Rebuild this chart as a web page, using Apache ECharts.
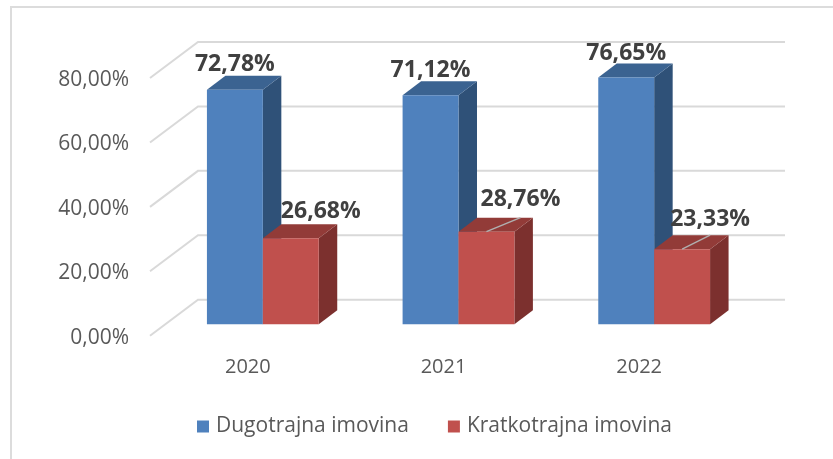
<!DOCTYPE html>
<html>
<head>
<meta charset="utf-8">
<style>
  html, body { margin: 0; padding: 0; background: #fff; }
  #chart { width: 833px; height: 459px; }
</style>
<script src="https://cdn.jsdelivr.net/npm/echarts@6/dist/echarts.min.js"></script>
</head>
<body>
<div id="chart"></div>
<script>
const years = ['2020', '2021', '2022']
const dugotrajna = [72.78, 71.12, 76.65]
const kratkotrajna = [26.68, 28.76, 23.33]
const yTicks = [0, 20, 40, 60, 80]

// label position relative to the middle of the bar's front top edge
const dugoLabelShift = [[0, -25], [0, -25], [0, -24]]
const kratkoLabelShift = [[30, -27], [34, -32], [28, -30]]
// only these two labels have a leader line
const kratkoLeader = [false, true, true]

const wallDepth = [48, -36] // depth of the floor and side wall
const barInset = [15, -11.4] // bar front seen from the front wall plane
const barDepth = [18.5, -14]
const barShare = 56 / 196 // bar width as part of a category band

function fmt(v) {
  return v.toFixed(2).replace('.', ',') + '%'
}

function renderWall(params, api) {
  const p = api.coord([0, api.value(0)])
  const band = api.size([1, 0])[0]
  const left = p[0] - band / 2
  const right = left + band * years.length
  return {
    type: 'polyline',
    shape: {
      points: [
        [left, p[1]],
        [left + wallDepth[0], p[1] + wallDepth[1]],
        [right + wallDepth[0], p[1] + wallDepth[1]]
      ]
    },
    style: { fill: 'none', stroke: '#d9d9d9', lineWidth: 2 }
  }
}

// pos: -1 bar left of the category centre, 0 bar right of it
function barRenderer(colors, pos, shifts, leaders) {
  return function (params, api) {
    const i = api.value(0)
    const val = api.value(1)
    const top = api.coord([i, val])
    const base = api.coord([i, 0])
    const w = api.size([1, 0])[0] * barShare
    const x0 = top[0] + barInset[0] + pos * w
    const x1 = x0 + w
    const y0 = top[1] + barInset[1]
    const y1 = base[1] + barInset[1]
    const dx = barDepth[0]
    const dy = barDepth[1]
    const cx = (x0 + x1) / 2
    const shift = shifts[i]
    const children = [
      {
        type: 'polygon',
        shape: { points: [[x1, y0], [x1 + dx, y0 + dy], [x1 + dx, y1 + dy], [x1, y1]] },
        style: { fill: colors.side }
      },
      {
        type: 'polygon',
        shape: { points: [[x0, y0], [x0 + dx, y0 + dy], [x1 + dx, y0 + dy], [x1, y0]] },
        style: { fill: colors.top }
      },
      {
        type: 'rect',
        shape: { x: x0, y: y0, width: w, height: y1 - y0 },
        style: { fill: colors.front }
      }
    ]
    if (leaders && leaders[i]) {
      children.push({
        type: 'line',
        shape: { x1: cx, y1: y0, x2: cx + shift[0], y2: y0 + dy },
        style: { stroke: '#b0b0b0', lineWidth: 1.5 }
      })
    }
    children.push({
      type: 'text',
      x: cx + shift[0],
      y: y0 + shift[1],
      style: {
        text: fmt(val),
        fill: '#404040',
        font: 'bold 23px "Open Sans"',
        align: 'center',
        verticalAlign: 'middle'
      }
    })
    return { type: 'group', children: children }
  }
}

const chart = echarts.init(document.getElementById('chart'))
chart.setOption({
  animation: false,
  backgroundColor: '#fff',
  textStyle: { fontFamily: 'Open Sans' },
  grid: { left: 150, right: 96, top: 78, bottom: 123.3 },
  graphic: [
    {
      type: 'polyline',
      silent: true,
      shape: { points: [[11, 459], [11, 7], [833, 7]] },
      style: { fill: 'none', stroke: '#dcdcdc', lineWidth: 2 }
    }
  ],
  legend: {
    data: ['Dugotrajna imovina', 'Kratkotrajna imovina'],
    left: 192,
    top: 411,
    icon: 'rect',
    itemWidth: 12,
    itemHeight: 12,
    itemGap: 39,
    textStyle: { color: '#595959', fontSize: 21, fontFamily: 'Open Sans', padding: [0, 0, 0, 2] }
  },
  xAxis: {
    type: 'category',
    data: years,
    axisLine: { show: false },
    axisTick: { show: false },
    axisLabel: { color: '#595959', fontSize: 20, margin: 22 }
  },
  yAxis: {
    type: 'value',
    min: 0,
    max: 80,
    interval: 20,
    splitLine: { show: false },
    axisLine: { show: false },
    axisTick: { show: false },
    axisLabel: {
      margin: 21,
      formatter: (v) => '{tick|' + fmt(v) + '}',
      rich: {
        tick: { color: '#595959', fontSize: 21, padding: [4, 0, 0, 0] }
      }
    }
  },
  series: [
    {
      type: 'custom',
      silent: true,
      z: 1,
      data: yTicks.map((t) => [t]),
      encode: { y: 0 },
      renderItem: renderWall
    },
    {
      type: 'custom',
      name: 'Dugotrajna imovina',
      z: 3,
      itemStyle: { color: '#4f81bd' },
      data: dugotrajna.map((v, i) => [i, v]),
      encode: { x: 0, y: 1 },
      renderItem: barRenderer(
        { front: '#4f81bd', side: '#2f5178', top: '#3b6391' },
        -1,
        dugoLabelShift
      )
    },
    {
      type: 'custom',
      name: 'Kratkotrajna imovina',
      z: 4,
      itemStyle: { color: '#c0504d' },
      data: kratkotrajna.map((v, i) => [i, v]),
      encode: { x: 0, y: 1 },
      renderItem: barRenderer(
        { front: '#c0504d', side: '#7c302e', top: '#923b38' },
        0,
        kratkoLabelShift,
        kratkoLeader
      )
    }
  ]
})
</script>
</body>
</html>
